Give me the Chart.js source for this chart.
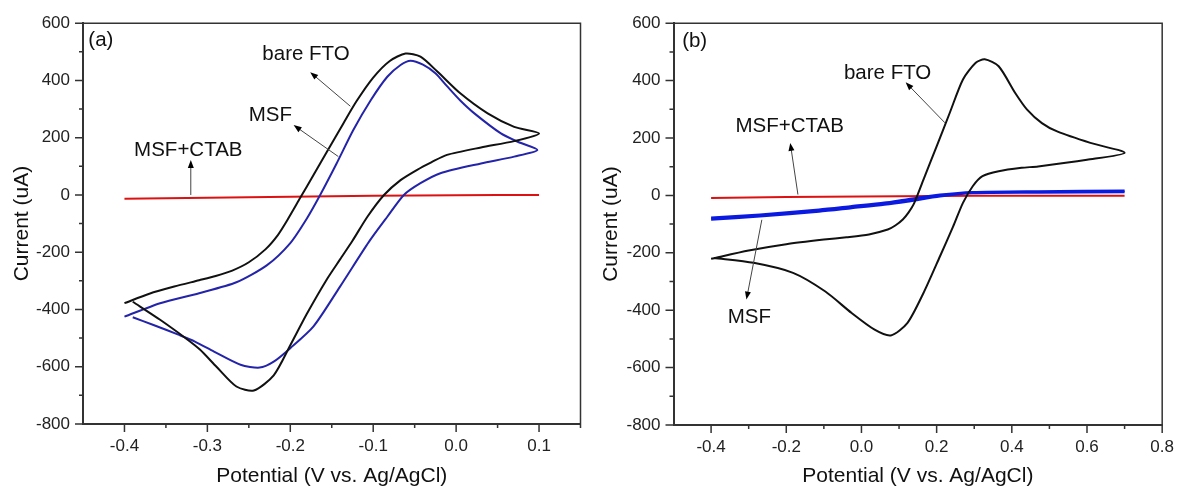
<!DOCTYPE html>
<html lang="en">
<head>
<meta charset="UTF-8">
<title>CV curves</title>
<script src="https://cdn.jsdelivr.net/npm/chart.js"></script>
<style>
  html, body { margin: 0; padding: 0; background: #fff; }
  .wrap { display: flex; width: 1186px; height: 488px; }
  .panel { width: 593px; height: 488px; }
</style>
</head>
<body>
<div class="wrap">
  <div class="panel"><canvas id="chartA" width="593" height="488"></canvas></div>
  <div class="panel"><canvas id="chartB" width="593" height="488"></canvas></div>
</div>
<script>
// ---- panel (a) ----
const aBareV = [-0.400, -0.370, -0.340, -0.310, -0.290, -0.270, -0.250, -0.230, -0.215, -0.204, -0.188, -0.172, -0.156, -0.136, -0.120, -0.100, -0.080, -0.061, -0.043, -0.023, 0.005, 0.038, 0.070, 0.100,
                0.070, 0.030, -0.011, -0.030, -0.047, -0.067, -0.087, -0.107, -0.125, -0.140, -0.156, -0.180, -0.200, -0.220, -0.244, -0.265, -0.289, -0.309, -0.325, -0.357, -0.390];
const aBareI = [-378, -345, -320, -298, -283, -264, -235, -190, -140, -90, -10, 70, 150, 250, 328, 410, 468, 494, 483, 432, 355, 285, 238, 215,
                188, 166, 140, 114, 88, 52, 0, -76, -160, -225, -295, -415, -525, -630, -683, -669, -600, -540, -503, -436, -373];

const aMsfV = [-0.400, -0.357, -0.310, -0.265, -0.228, -0.200, -0.180, -0.164, -0.144, -0.124, -0.103, -0.083, -0.067, -0.055, -0.040, -0.025, -0.011, 0.005, 0.022, 0.054, 0.075, 0.098,
               0.070, 0.030, -0.019, -0.043, -0.063, -0.083, -0.105, -0.140, -0.172, -0.200, -0.220, -0.237, -0.260, -0.292, -0.315, -0.335, -0.365, -0.390];
const aMsfI = [-425, -378, -343, -305, -245, -168, -82, 0, 111, 227, 331, 413, 454, 469, 455, 425, 380, 330, 285, 215, 185, 157,
               134, 110, 76, 41, 0, -76, -163, -320, -459, -535, -582, -603, -593, -547, -512, -488, -454, -427];

const aCtabV = [-0.40, -0.30, -0.20, -0.10, 0.00, 0.10];
const aCtabI = [-13, -10, -6, -3, -1, 0];

const aXTicks = [-0.4, -0.3, -0.2, -0.1, 0.0, 0.1];
const aXMinor = [-0.35, -0.25, -0.15, -0.05, 0.05, 0.15];

// ---- panel (b) ----
const bBareV = [-0.400, -0.300, -0.200, -0.100, -0.040, 0.020, 0.070, 0.090, 0.110, 0.125, 0.140, 0.165, 0.200, 0.235, 0.270, 0.304, 0.328, 0.365, 0.409, 0.440, 0.480, 0.522, 0.609, 0.700,
                0.600, 0.470, 0.426, 0.365, 0.322, 0.296, 0.270, 0.244, 0.209, 0.165, 0.122, 0.078, 0.035, -0.026, -0.096, -0.182, -0.287, -0.392];
const bBareI = [-221, -192, -170, -154, -146, -136, -119, -105, -84, -60, -28, 55, 171, 288, 404, 462, 474, 450, 357, 300, 252, 222, 183, 148,
                124, 101, 96, 84, 67, 32, -26, -108, -212, -340, -445, -488, -468, -410, -335, -270, -235, -218];

const bMsfFwdV = [-0.400, -0.270, -0.113, -0.026, 0.061, 0.122, 0.209, 0.296, 0.470, 0.700];
const bMsfFwdI = [-84, -73, -56, -44, -32, -21, -3, 8, 10, 12];
const bMsfRevV = [0.700, 0.470, 0.296, 0.209, 0.122, 0.061, -0.026, -0.113, -0.270, -0.400];
const bMsfRevI = [16, 14, 11, 2, -14, -26, -38, -50, -67, -78];

const bCtabV = [-0.40, -0.20, 0.00, 0.20, 0.40, 0.70];
const bCtabI = [-9, -6, -4, -2, -1, -1];

const bXTicks = [-0.4, -0.2, 0.0, 0.2, 0.4, 0.6, 0.8];
const bXMinor = [-0.3, -0.1, 0.1, 0.3, 0.5, 0.7];

const yTicks = [-800, -600, -400, -200, 0, 200, 400, 600];
const yMinor = [-700, -500, -300, -100, 100, 300, 500];

const FONT = "Arial, 'Liberation Sans', Helvetica, sans-serif";

function pts(vs, is) {
  return vs.map((v, i) => ({ x: v, y: is[i] }));
}

// outward ticks (long major, short minor) plus the top/right frame
const frameTicks = {
  id: 'frameTicks',
  afterDraw(chart, args, o) {
    const { ctx, chartArea: a, scales: { x, y } } = chart;
    ctx.save();
    ctx.strokeStyle = '#333';
    ctx.lineWidth = 1.5;
    ctx.beginPath();
    ctx.moveTo(a.left, a.top);
    ctx.lineTo(a.right, a.top);
    ctx.lineTo(a.right, a.bottom);
    ctx.stroke();
    ctx.beginPath();
    o.xMajor.forEach(v => { const p = x.getPixelForValue(v); ctx.moveTo(p, a.bottom); ctx.lineTo(p, a.bottom + 8); });
    o.xMinor.forEach(v => { const p = x.getPixelForValue(v); ctx.moveTo(p, a.bottom); ctx.lineTo(p, a.bottom + 4); });
    o.yMajor.forEach(v => { const p = y.getPixelForValue(v); ctx.moveTo(a.left, p); ctx.lineTo(a.left - 8, p); });
    o.yMinor.forEach(v => { const p = y.getPixelForValue(v); ctx.moveTo(a.left, p); ctx.lineTo(a.left - 4, p); });
    ctx.stroke();
    ctx.restore();
  }
};

// text labels and arrows, placed in data units
const notes = {
  id: 'notes',
  afterDatasetsDraw(chart, args, o) {
    const { ctx, scales: { x, y } } = chart;
    ctx.save();
    ctx.font = '20.5px ' + FONT;
    ctx.textBaseline = 'middle';
    o.labels.forEach(l => {
      ctx.fillStyle = '#111';
      ctx.textAlign = l.align || 'center';
      ctx.fillText(l.text, x.getPixelForValue(l.x), y.getPixelForValue(l.y));
    });
    o.arrows.forEach(ar => {
      const x0 = x.getPixelForValue(ar.from[0]), y0 = y.getPixelForValue(ar.from[1]);
      const x1 = x.getPixelForValue(ar.to[0]), y1 = y.getPixelForValue(ar.to[1]);
      const c = Math.cos(Math.atan2(y1 - y0, x1 - x0)), s = Math.sin(Math.atan2(y1 - y0, x1 - x0));
      ctx.strokeStyle = '#444';
      ctx.lineWidth = 1;
      ctx.beginPath();
      ctx.moveTo(x0, y0);
      ctx.lineTo(x1 - 6 * c, y1 - 6 * s);
      ctx.stroke();
      ctx.fillStyle = '#000';
      ctx.beginPath();
      ctx.moveTo(x1, y1);
      ctx.lineTo(x1 - 8 * c + 3 * s, y1 - 8 * s - 3 * c);
      ctx.lineTo(x1 - 8 * c - 3 * s, y1 - 8 * s + 3 * c);
      ctx.closePath();
      ctx.fill();
    });
    ctx.restore();
  }
};

function line(data, color, width) {
  return { data: data, showLine: true, borderColor: color, borderWidth: width, pointRadius: 0, tension: 0.25, fill: false };
}

function makeChart(id, cfg) {
  return new Chart(document.getElementById(id), {
    type: 'scatter',
    data: { datasets: cfg.datasets },
    options: {
      responsive: false,
      animation: false,
      devicePixelRatio: 1,
      layout: { padding: { left: 0, top: cfg.top, right: 12.5, bottom: 0 } },
      plugins: {
        legend: { display: false },
        tooltip: { enabled: false },
        frameTicks: { xMajor: cfg.xTicks, xMinor: cfg.xMinor, yMajor: yTicks, yMinor: yMinor },
        notes: { labels: cfg.labels, arrows: cfg.arrows }
      },
      scales: {
        x: {
          type: 'linear', min: cfg.xMin, max: cfg.xMax,
          afterBuildTicks: s => { s.ticks = cfg.xTicks.map(v => ({ value: v })); },
          afterFit: s => { s.height = cfg.xAxisH; },
          grid: { display: false, drawTicks: false },
          border: { display: true, color: '#333', width: 2 },
          ticks: { padding: 12, color: '#222', font: { family: FONT, size: 17 }, callback: v => v.toFixed(1), maxRotation: 0, autoSkip: false },
          title: { display: true, text: 'Potential (V vs. Ag/AgCl)', color: '#111', font: { family: FONT, size: 21, lineHeight: 1.15 }, padding: { top: 0, bottom: 0 } }
        },
        y: {
          type: 'linear', min: -800, max: 600,
          afterBuildTicks: s => { s.ticks = yTicks.map(v => ({ value: v })); },
          afterFit: s => { s.width = cfg.yAxisW; },
          grid: { display: false, drawTicks: false },
          border: { display: true, color: '#333', width: 2 },
          ticks: { padding: 13, color: '#222', font: { family: FONT, size: 17 }, callback: v => String(v), autoSkip: false },
          title: { display: true, text: 'Current (uA)', color: '#111', font: { family: FONT, size: 21, lineHeight: 1.2 }, padding: { top: cfg.yTitlePad, bottom: 0 } }
        }
      }
    },
    plugins: [frameTicks, notes]
  });
}

makeChart('chartA', {
  datasets: [
    line(pts(aBareV, aBareI), '#111111', 2),
    line(pts(aMsfV, aMsfI), '#2424aa', 2),
    line(pts(aCtabV, aCtabI), '#dd1111', 2)
  ],
  xMin: -0.45, xMax: 0.15, xTicks: aXTicks, xMinor: aXMinor,
  top: 23, xAxisH: 64, yAxisW: 83, yTitlePad: 10,
  labels: [
    { text: '(a)', x: -0.4436, y: 541, align: 'left' },
    { text: 'bare FTO', x: -0.181, y: 492 },
    { text: 'MSF', x: -0.224, y: 279 },
    { text: 'MSF+CTAB', x: -0.323, y: 157 }
  ],
  arrows: [
    { from: [-0.1276, 310], to: [-0.176, 429] },
    { from: [-0.142, 134], to: [-0.196, 244] },
    { from: [-0.320, 0], to: [-0.320, 122] }
  ]
});

makeChart('chartB', {
  datasets: [
    line(pts(bBareV, bBareI), '#111111', 2),
    line(pts(bMsfFwdV, bMsfFwdI), '#0a1ae0', 2.5),
    line(pts(bMsfRevV, bMsfRevI), '#0a1ae0', 2.5),
    line(pts(bCtabV, bCtabI), '#dd1111', 2)
  ],
  xMin: -0.5, xMax: 0.8, xTicks: bXTicks, xMinor: bXMinor,
  top: 23, xAxisH: 63, yAxisW: 80.5, yTitlePad: 6,
  labels: [
    { text: '(b)', x: -0.477, y: 537, align: 'left' },
    { text: 'bare FTO', x: 0.0696, y: 427 },
    { text: 'MSF+CTAB', x: -0.191, y: 241 },
    { text: 'MSF', x: -0.298, y: -424 }
  ],
  arrows: [
    { from: [0.222, 253], to: [0.1176, 394] },
    { from: [-0.169, 3], to: [-0.1894, 183] },
    { from: [-0.265, -85], to: [-0.306, -363] }
  ]
});
</script>
</body>
</html>
